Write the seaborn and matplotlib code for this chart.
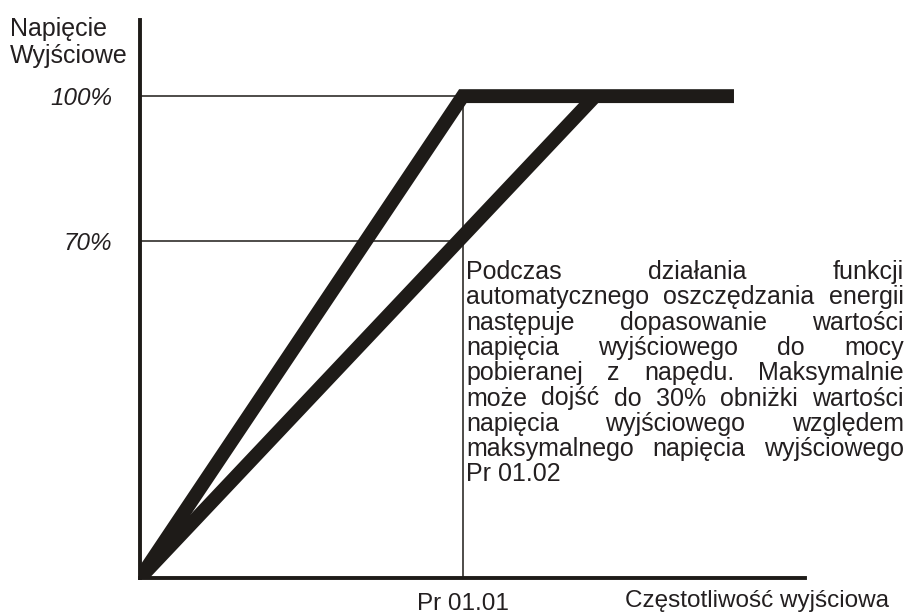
import pandas as pd
import matplotlib
matplotlib.use("Agg")
import matplotlib.pyplot as plt
import seaborn as sns

# values (x in units of Pr 01.01, y in % of max voltage)
freq_full = [0.0, 1.0, 1.84]
volt_full = [0, 100, 100]
freq_saving = [0.0, 1.41]
volt_saving = [0, 100]
y_ticks = [70, 100]
y_tick_labels = ['70%', '100%']
x_ticks = [1.0]
x_tick_labels = ['Pr 01.01']

note_lines = [
    "Podczas działania funkcji",
    "automatycznego oszczędzania energii",
    "następuje dopasowanie wartości",
    "napięcia wyjściowego do mocy",
    "pobieranej z napędu. Maksymalnie",
    "może dojść do 30% obniżki wartości",
    "napięcia wyjściowego względem",
    "maksymalnego napięcia wyjściowego",
    "Pr 01.02",
]

W, H = 911, 616
ink = '#1e1b18'

sns.set_theme(style='white')
plt.rcParams['font.family'] = ['Liberation Sans', 'DejaVu Sans']

fig = plt.figure(figsize=(W / 100, H / 100), dpi=100)
ax = fig.add_axes([140 / W, 38 / H, 665 / W, 558 / H])

df_full = pd.DataFrame({'f': freq_full, 'v': volt_full})
df_saving = pd.DataFrame({'f': freq_saving, 'v': volt_saving})
sns.lineplot(data=df_full, x='f', y='v', ax=ax, color=ink, linewidth=10,
             sort=False, solid_joinstyle='miter', solid_capstyle='butt')
sns.lineplot(data=df_saving, x='f', y='v', ax=ax, color=ink, linewidth=10,
             sort=False, solid_joinstyle='miter', solid_capstyle='butt')

# thin guide lines
ax.hlines(y_ticks, 0, x_ticks[0], color=ink, linewidth=1.1, zorder=1)
ax.vlines(x_ticks[0], 0, max(y_ticks), color=ink, linewidth=1.1, zorder=1)

ax.set_xlim(0, 2.06)
ax.set_ylim(0, 115.8)
sns.despine(ax=ax)
for side in ['left', 'bottom']:
    ax.spines[side].set_color(ink)
    ax.spines[side].set_linewidth(2.8)

ax.set_yticks(y_ticks, y_tick_labels, fontsize=17.5, fontstyle='italic', color='#231f20')
ax.set_xticks(x_ticks, x_tick_labels, fontsize=17.5, color='#231f20')
ax.tick_params(axis='y', length=0, pad=20)
ax.tick_params(axis='x', length=0, pad=11)

ax.set_xlabel('Częstotliwość wyjściowa', fontsize=17.5, color='#231f20', ha='left')
ax.xaxis.set_label_coords((625 - 140) / 665, -(607 - 578) / 558)
ax.xaxis.label.set_va('baseline')

ax.set_ylabel('Napięcie\nWyjściowe', fontsize=18, color='#231f20', rotation=0,
              ha='left', va='baseline', multialignment='left', linespacing=1.15)
ax.yaxis.set_label_coords((10 - 140) / 665, (578 - 60) / 558)

# justified note text
renderer = fig.canvas.get_renderer()
x0, x1 = 466, 904
base, step = 279, 25.3
for i, line in enumerate(note_lines):
    y = base + i * step
    words = line.split()
    texts = [fig.text(0, 1 - y / H, w, ha='left', va='baseline',
                      fontsize=18, color='#231f20') for w in words]
    widths = [t.get_window_extent(renderer).width for t in texts]
    last = i == len(note_lines) - 1
    if len(words) > 1 and not last:
        gap = (x1 - x0 - sum(widths)) / (len(words) - 1)
    else:
        gap = renderer.points_to_pixels(18) * 0.278
    x = x0
    for t, w in zip(texts, widths):
        t.set_x(x / W)
        x += w + gap

fig.savefig('out.png', dpi=100)
